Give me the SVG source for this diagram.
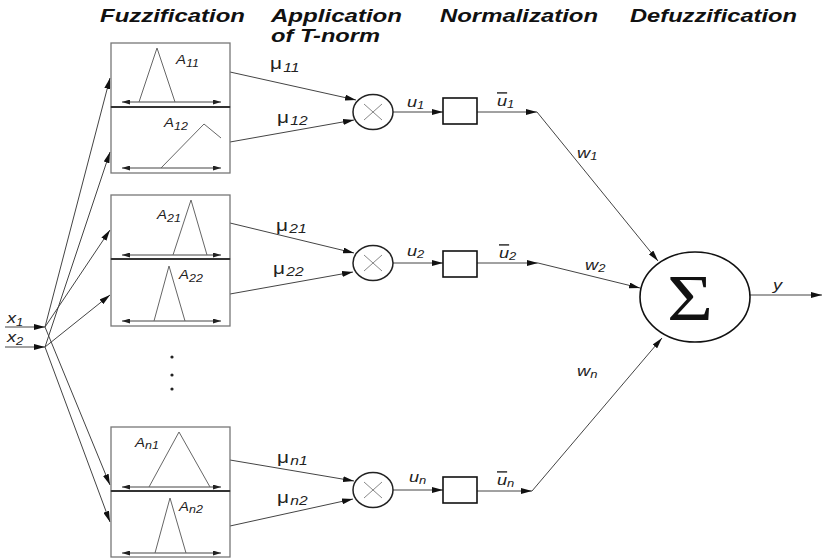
<svg xmlns="http://www.w3.org/2000/svg" width="824" height="560" viewBox="0 0 824 560">
  <style>
    .hdr { font-family: "Liberation Sans", Arial, sans-serif; font-weight: bold; font-style: italic; font-size: 19px; fill: #111; }
    .lab { font-family: "Liberation Sans", Arial, sans-serif; font-style: italic; font-size: 12px; fill: #222; }
    .sub { font-size: 10px; }
    .mu { font-family: "Liberation Sans", Arial, sans-serif; font-size: 16px; fill: #222; }
    .mus { font-style: italic; font-size: 12px; }
    .sig { font-family: "Liberation Sans", Arial, sans-serif; font-style: italic; font-size: 14px; fill: #222; }
    .sigs { font-size: 10px; }
    .box { fill: #fff; stroke: #777; stroke-width: 1.3; }
    .div { stroke: #333; stroke-width: 2; }
    .mf { fill: none; stroke: #666; stroke-width: 1; }
    .axis { stroke: #444; stroke-width: 1; marker-start: url(#sa); marker-end: url(#sa); }
    .wire { fill: none; stroke: #444; stroke-width: 1; }
    .arr { marker-end: url(#ah); }
    .tn { fill: #fff; stroke: #222; stroke-width: 1.5; }
    .cross { stroke: #888; stroke-width: 1; }
    .nrm { fill: #fff; stroke: #111; stroke-width: 1.6; }
  </style>
  <defs>
    <marker id="ah" viewBox="0 0 11 6" refX="11" refY="3" markerWidth="11" markerHeight="6" markerUnits="userSpaceOnUse" orient="auto">
      <path d="M0,0L11,3L0,6z" fill="#111"/>
    </marker>
    <marker id="sa" viewBox="0 0 8 5" refX="8" refY="2.5" markerWidth="8" markerHeight="5" markerUnits="userSpaceOnUse" orient="auto-start-reverse">
      <path d="M0,0L8,2.5L0,5z" fill="#222"/>
    </marker>
  </defs>
  <rect width="824" height="560" fill="#fff"/>

  <!-- layer titles -->
  <g id="titles">
    <text class="hdr" x="100" y="22" textLength="145" lengthAdjust="spacingAndGlyphs">Fuzzification</text>
    <text class="hdr" x="271" y="22" textLength="131" lengthAdjust="spacingAndGlyphs">Application</text>
    <text class="hdr" x="271" y="42" textLength="109" lengthAdjust="spacingAndGlyphs">of T-norm</text>
    <text class="hdr" x="440" y="22" textLength="158" lengthAdjust="spacingAndGlyphs">Normalization</text>
    <text class="hdr" x="630" y="22" textLength="167" lengthAdjust="spacingAndGlyphs">Defuzzification</text>
  </g>

  <!-- connectors -->
  <g id="connectors">
    <!-- inputs -->
    <line class="wire arr" x1="5" y1="327" x2="45" y2="327"/>
    <line class="wire arr" x1="5" y1="347" x2="45" y2="347"/>
    <!-- x1 fan -->
    <line class="wire arr" x1="45" y1="327" x2="110" y2="78"/>
    <line class="wire arr" x1="45" y1="327" x2="110" y2="230"/>
    <line class="wire arr" x1="45" y1="327" x2="110" y2="485"/>
    <!-- x2 fan -->
    <line class="wire arr" x1="45" y1="347" x2="110" y2="152"/>
    <line class="wire arr" x1="45" y1="347" x2="110" y2="295"/>
    <line class="wire arr" x1="45" y1="347" x2="110" y2="522"/>
    <!-- membership grades to T-norms -->
    <line class="wire arr" x1="230" y1="72" x2="356" y2="100"/>
    <line class="wire arr" x1="230" y1="142" x2="354" y2="120"/>
    <line class="wire arr" x1="230" y1="223" x2="354" y2="253"/>
    <line class="wire arr" x1="230" y1="294" x2="353" y2="272"/>
    <line class="wire arr" x1="230" y1="460" x2="354" y2="481"/>
    <line class="wire arr" x1="230" y1="526" x2="353" y2="499"/>
    <!-- firing strengths to normalisation -->
    <line class="wire arr" x1="393" y1="112" x2="443" y2="112"/>
    <line class="wire arr" x1="393" y1="263" x2="443" y2="263"/>
    <line class="wire arr" x1="393" y1="490" x2="443" y2="490"/>
    <!-- normalised strengths -->
    <line class="wire arr" x1="477" y1="112" x2="537" y2="112"/>
    <line class="wire arr" x1="477" y1="263" x2="538" y2="263"/>
    <line class="wire arr" x1="477" y1="491" x2="532" y2="491"/>
    <!-- weighted paths to the sum -->
    <line class="wire arr" x1="537" y1="112" x2="658" y2="261"/>
    <line class="wire arr" x1="538" y1="263" x2="640" y2="288"/>
    <line class="wire arr" x1="532" y1="491" x2="662" y2="338"/>
    <!-- output -->
    <line class="wire arr" x1="750" y1="295" x2="822" y2="295"/>
  </g>

  <!-- inputs -->
  <g id="input-x1"><text class="sig" transform="translate(7,323) scale(1.3,1)">x<tspan class="sigs" dy="3">1</tspan></text></g>
  <g id="input-x2"><text class="sig" transform="translate(7,342) scale(1.3,1)">x<tspan class="sigs" dy="3">2</tspan></text></g>

  <!-- membership functions, rule 1 -->
  <g id="mf-A11">
    <rect class="box" x="111" y="43" width="119" height="64"/>
    <line class="axis" x1="122" y1="102" x2="221" y2="102"/>
    <polyline class="mf" points="139,102 157,48 175,102"/>
    <text class="lab" transform="translate(176,64) scale(1.25,1)">A<tspan class="sub" dy="3">11</tspan></text>
  </g>
  <g id="mf-A12">
    <rect class="box" x="111" y="107" width="119" height="66"/>
    <line class="axis" x1="122" y1="168" x2="221" y2="168"/>
    <polyline class="mf" points="161,168 204,124 221,138"/>
    <text class="lab" transform="translate(164,127) scale(1.25,1)">A<tspan class="sub" dy="3">12</tspan></text>
  </g>
  <line class="div" x1="111" y1="107" x2="230" y2="107"/>

  <!-- membership functions, rule 2 -->
  <g id="mf-A21">
    <rect class="box" x="111" y="195" width="119" height="64"/>
    <line class="axis" x1="122" y1="255" x2="221" y2="255"/>
    <polyline class="mf" points="173,255 191,200 207,255"/>
    <text class="lab" transform="translate(157,219) scale(1.25,1)">A<tspan class="sub" dy="3">21</tspan></text>
  </g>
  <g id="mf-A22">
    <rect class="box" x="111" y="259" width="119" height="67"/>
    <line class="axis" x1="122" y1="321" x2="221" y2="321"/>
    <polyline class="mf" points="154,321 169,266 185,321"/>
    <text class="lab" transform="translate(179,279) scale(1.25,1)">A<tspan class="sub" dy="3">22</tspan></text>
  </g>
  <line class="div" x1="111" y1="259" x2="230" y2="259"/>

  <!-- omitted rules -->
  <g id="ellipsis" fill="#222">
    <circle cx="172" cy="357" r="1.6"/>
    <circle cx="172" cy="375" r="1.6"/>
    <circle cx="172" cy="389" r="1.6"/>
  </g>

  <!-- membership functions, rule n -->
  <g id="mf-An1">
    <rect class="box" x="111" y="427" width="119" height="64"/>
    <line class="axis" x1="122" y1="487" x2="221" y2="487"/>
    <polyline class="mf" points="149,487 179,432 210,487"/>
    <text class="lab" transform="translate(135,447) scale(1.25,1)">A<tspan class="sub" dy="2">n1</tspan></text>
  </g>
  <g id="mf-An2">
    <rect class="box" x="111" y="491" width="119" height="66"/>
    <line class="axis" x1="122" y1="553" x2="221" y2="553"/>
    <polyline class="mf" points="155,553 170,498 186,553"/>
    <text class="lab" transform="translate(179,511) scale(1.25,1)">A<tspan class="sub" dy="2">n2</tspan></text>
  </g>
  <line class="div" x1="111" y1="491" x2="230" y2="491"/>

  <!-- membership grade labels -->
  <g id="grade-labels">
    <text class="mu" transform="translate(270,69) scale(1.3,1)">μ<tspan class="mus" dx="1" dy="3">11</tspan></text>
    <text class="mu" transform="translate(277,123) scale(1.3,1)">μ<tspan class="mus" dx="1" dy="2">12</tspan></text>
    <text class="mu" transform="translate(276,231) scale(1.3,1)">μ<tspan class="mus" dx="1" dy="2">21</tspan></text>
    <text class="mu" transform="translate(273,274) scale(1.3,1)">μ<tspan class="mus" dx="1" dy="2">22</tspan></text>
    <text class="mu" transform="translate(277,463) scale(1.3,1)">μ<tspan class="mus" dx="1" dy="2">n1</tspan></text>
    <text class="mu" transform="translate(277,503) scale(1.3,1)">μ<tspan class="mus" dx="1" dy="2">n2</tspan></text>
  </g>

  <!-- T-norm nodes -->
  <g id="tnorm-1">
    <ellipse class="tn" cx="373" cy="112" rx="20" ry="17.5"/>
    <path class="cross" d="M364,104L382,120M382,104L364,120"/>
  </g>
  <g id="tnorm-2">
    <ellipse class="tn" cx="373" cy="263" rx="20" ry="17.5"/>
    <path class="cross" d="M364,255L382,271M382,255L364,271"/>
  </g>
  <g id="tnorm-n">
    <ellipse class="tn" cx="373" cy="490" rx="20" ry="17.5"/>
    <path class="cross" d="M364,482L382,498M382,482L364,498"/>
  </g>

  <!-- firing strength labels -->
  <g id="strength-labels">
    <text class="sig" transform="translate(407,107) scale(1.3,1)">u<tspan class="sigs" dy="2">1</tspan></text>
    <text class="sig" transform="translate(407,256) scale(1.3,1)">u<tspan class="sigs" dy="2">2</tspan></text>
    <text class="sig" transform="translate(409,482) scale(1.3,1)">u<tspan class="sigs" dy="2">n</tspan></text>
  </g>

  <!-- normalisation nodes -->
  <g id="norm-1"><rect class="nrm" x="443" y="98" width="34" height="26"/></g>
  <g id="norm-2"><rect class="nrm" x="443" y="251" width="34" height="26"/></g>
  <g id="norm-n"><rect class="nrm" x="443" y="477" width="34" height="26"/></g>

  <!-- normalised strength labels -->
  <g id="normalised-labels">
    <text class="sig" transform="translate(497,106) scale(1.3,1)"><tspan text-decoration="overline">u</tspan><tspan class="sigs" dy="2">1</tspan></text>
    <text class="sig" transform="translate(499,258) scale(1.3,1)"><tspan text-decoration="overline">u</tspan><tspan class="sigs" dy="2">2</tspan></text>
    <text class="sig" transform="translate(497,485) scale(1.3,1)"><tspan text-decoration="overline">u</tspan><tspan class="sigs" dy="2">n</tspan></text>
  </g>

  <!-- consequent weights -->
  <g id="weight-labels">
    <text class="sig" transform="translate(577,158) scale(1.3,1)">w<tspan class="sigs" dy="2">1</tspan></text>
    <text class="sig" transform="translate(585,270) scale(1.3,1)">w<tspan class="sigs" dy="2">2</tspan></text>
    <text class="sig" transform="translate(577,376) scale(1.3,1)">w<tspan class="sigs" dy="2">n</tspan></text>
  </g>

  <!-- summation node -->
  <g id="sum">
    <ellipse cx="695" cy="297" rx="55" ry="45" fill="#fff" stroke="#111" stroke-width="1.6"/>
    <text x="667" y="320" font-family="Liberation Serif, Times New Roman, serif" font-size="66" fill="#111" textLength="46" lengthAdjust="spacingAndGlyphs">Σ</text>
  </g>

  <!-- output -->
  <g id="output-y"><text class="sig" transform="translate(773,290) scale(1.3,1)">y</text></g>
</svg>
